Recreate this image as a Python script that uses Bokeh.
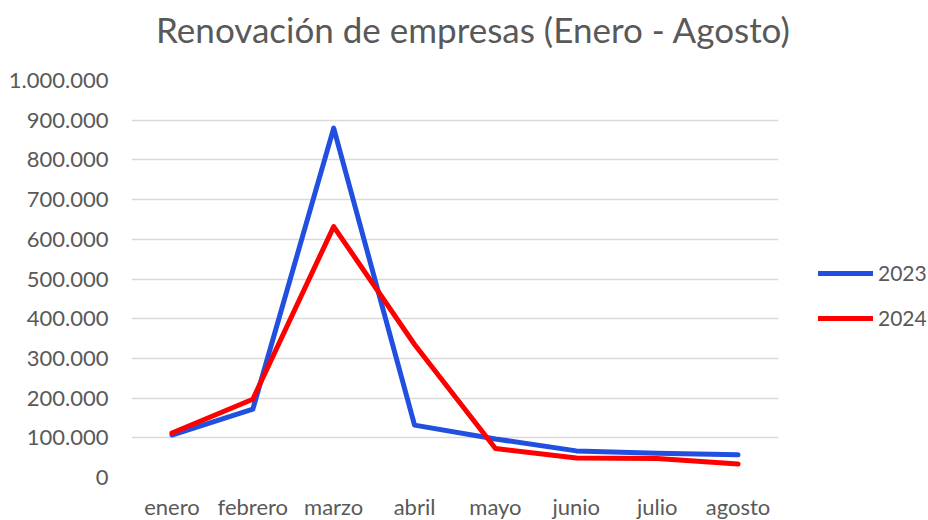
from bokeh.plotting import figure
from bokeh.models import Range1d, FactorRange, Legend, LegendItem, FixedTicker, Label
from bokeh.embed import file_html
from bokeh.resources import INLINE

months = ["enero", "febrero", "marzo", "abril", "mayo", "junio", "julio", "agosto"]
values_2023 = [107000, 172000, 880000, 132000, 97000, 67000, 61000, 57000]
values_2024 = [112000, 197000, 632000, 335000, 73000, 49000, 48000, 34000]
series_names = ["2023", "2024"]
y_ticks = [0, 100000, 200000, 300000, 400000, 500000, 600000, 700000, 800000, 900000, 1000000]
y_tick_labels = ["0", "100.000", "200.000", "300.000", "400.000", "500.000",
                 "600.000", "700.000", "800.000", "900.000", "1.000.000"]
title_text = "Renovación de empresas (Enero - Agosto)"

TEXT = "#595959"
FONT = "Lato"

p = figure(frame_width=647, frame_height=397,
           x_range=FactorRange(*months, range_padding=0),
           y_range=Range1d(y_ticks[0], y_ticks[-1]),
           output_backend="svg", toolbar_location=None,
           min_border_left=131, min_border_right=150,
           min_border_top=80, min_border_bottom=43)
p.title = None
p.outline_line_color = None
p.background_fill_color = "white"
p.border_fill_color = "white"
p.xgrid.grid_line_color = None
p.ygrid.grid_line_color = "#D9D9D9"
p.ygrid.grid_line_width = 1.5

p.yaxis.ticker = FixedTicker(ticks=y_ticks)
p.yaxis.major_label_overrides = {t: l for t, l in zip(y_ticks, y_tick_labels)}
for ax in (p.xaxis, p.yaxis):
    ax.axis_line_color = None
    ax.major_tick_line_color = None
    ax.minor_tick_line_color = None
    ax.major_label_text_font = FONT
    ax.major_label_text_font_size = "22px"
    ax.major_label_text_color = TEXT
p.yaxis.major_label_standoff = 17
p.xaxis.major_label_standoff = 9

r1 = p.line(months, values_2023, line_color="#2150E0", line_width=5,
            line_cap="round", line_join="round")
r2 = p.line(months, values_2024, line_color="#FF0000", line_width=5,
            line_cap="round", line_join="round")

legend = Legend(items=[LegendItem(label=series_names[0], renderers=[r1]),
                       LegendItem(label=series_names[1], renderers=[r2])],
                location=(40, 147), orientation="vertical",
                glyph_width=55, glyph_height=20, label_height=20,
                spacing=20, label_standoff=5, padding=0, margin=0,
                border_line_color=None, background_fill_alpha=0,
                label_text_font=FONT, label_text_font_size="21px",
                label_text_color=TEXT)
p.add_layout(legend, "right")

title = Label(x=342, y=52, x_units="screen", y_units="screen", text=title_text,
              text_align="center", text_baseline="middle",
              text_font=FONT, text_font_size="35px", text_color=TEXT)
p.add_layout(title, "above")

open("out.html", "w").write(file_html(p, INLINE))
